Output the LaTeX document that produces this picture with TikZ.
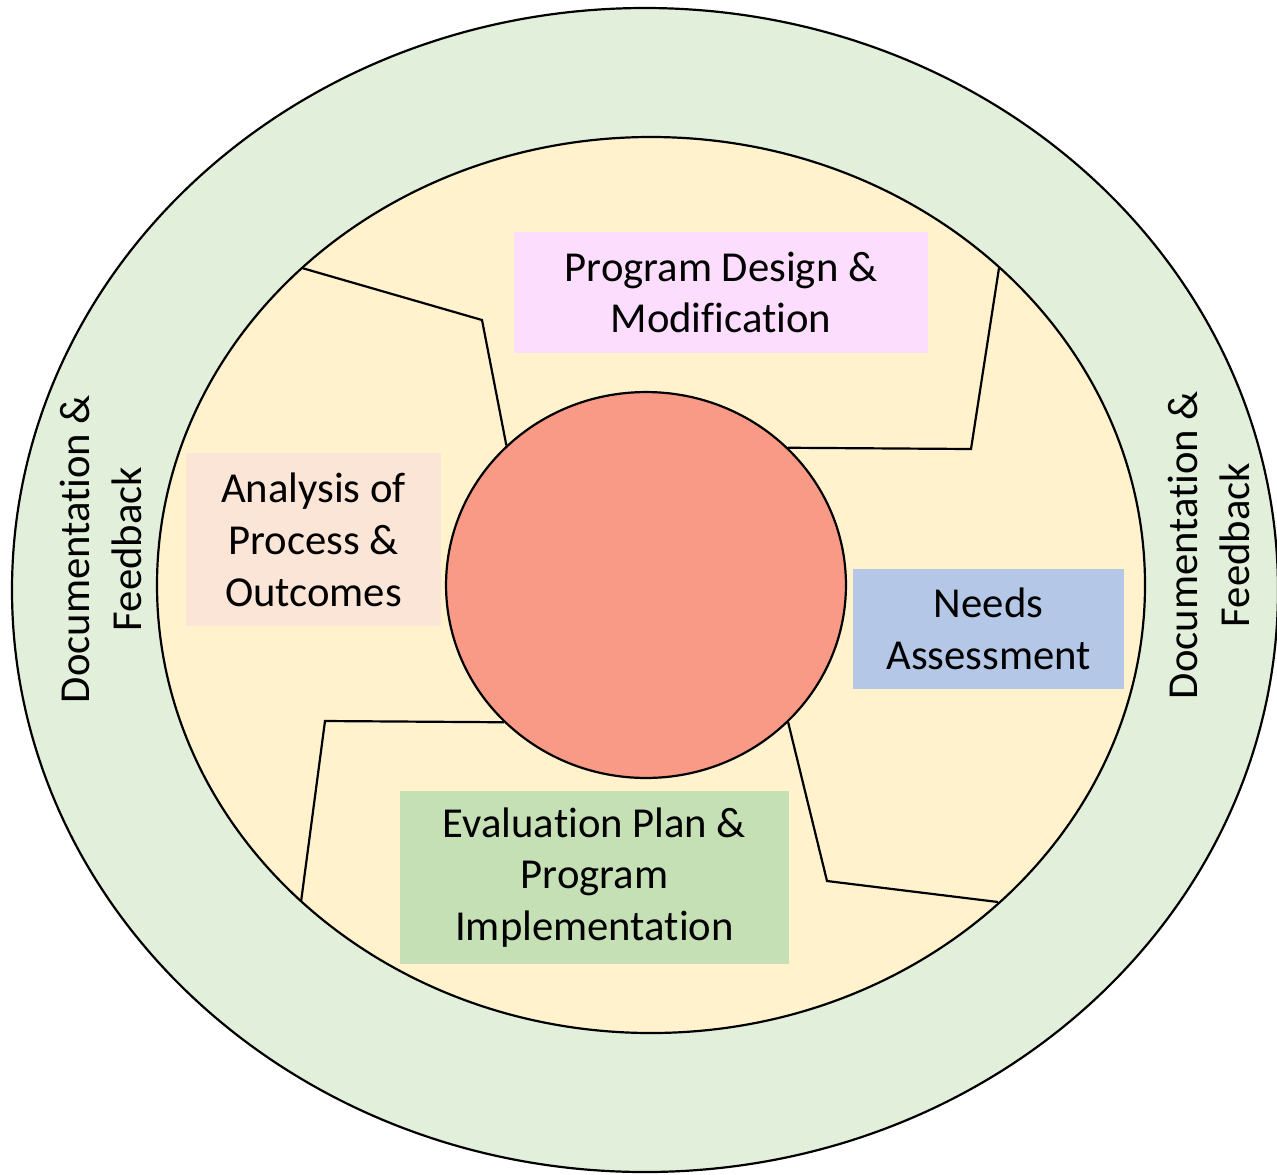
\documentclass[tikz,border=0pt]{standalone}
\usepackage{fontspec}
\setmainfont[Ligatures=NoCommon]{Carlito}
\usepackage{xcolor}
\usetikzlibrary{shapes.geometric}
\definecolor{ringgreen}{HTML}{E2EFDA}
\definecolor{innercream}{HTML}{FFF2CC}
\definecolor{hubsalmon}{HTML}{F89A86}
\definecolor{designpink}{HTML}{FDDDFE}
\definecolor{analysispeach}{HTML}{FBE5D6}
\definecolor{needsblue}{HTML}{B4C7E7}
\definecolor{evalgreen}{HTML}{C5E0B4}
\tikzset{
  stagebox/.style={rectangle,inner sep=0pt,align=center,
    font=\fontsize{24.3}{29.5}\selectfont},
  ringtext/.style={rotate=90,align=center,
    font=\fontsize{24.3}{29.5}\selectfont}
}

\begin{document}
\begin{tikzpicture}[x=0.02cm,y=-0.02cm,line width=1.25pt]
      \useasboundingbox (0,0) rectangle (1277,1174);
      \fill[white] (0,0) rectangle (1277,1174);
      % rings
      \draw[fill=ringgreen] (645,590) ellipse (633 and 582);
      \draw[fill=innercream] (651,585) ellipse (494 and 448);
      \node[ellipse,draw,fill=hubsalmon,minimum width=8cm,minimum height=7.72cm] (hub) at (646,585) {};
      % dividers
      \coordinate (tlbend) at (482,320);
      \coordinate (tlend) at (302,268);
      \coordinate (trbend) at (971,449);
      \coordinate (trend) at (999,268);
      \coordinate (blbend) at (325,721);
      \coordinate (blend) at (301,902);
      \coordinate (brbend) at (827,881);
      \coordinate (brend) at (998,902);
      \draw (hub.135) -- (tlbend) -- (tlend);
      \draw (hub.44) -- (trbend) -- (trend);
      \draw (hub.224) -- (blbend) -- (blend);
      \draw (hub.316) -- (brbend) -- (brend);
      % stages
      \node[stagebox,fill=designpink,minimum width=8.28cm,minimum height=2.42cm] (design) at (721,292.5) {Program Design \&\\Modification};
      \node[stagebox,fill=analysispeach,minimum width=5.1cm,minimum height=3.46cm] (analysis) at (313.5,539.5) {Analysis of\\Process \&\\Outcomes};
      \node[stagebox,fill=needsblue,minimum width=5.42cm,minimum height=2.4cm] (needs) at (988.5,629) {Needs\\Assessment};
      \node[stagebox,fill=evalgreen,minimum width=7.78cm,minimum height=3.46cm] (evaluation) at (594.5,877.5) {Evaluation Plan \&\\Program\\Implementation};
      % outer ring labels
      \node[ringtext] (docleft) at (101,549) {Documentation \&\\Feedback};
      \node[ringtext] (docright) at (1209,545) {Documentation \&\\Feedback};
\end{tikzpicture}
\end{document}
